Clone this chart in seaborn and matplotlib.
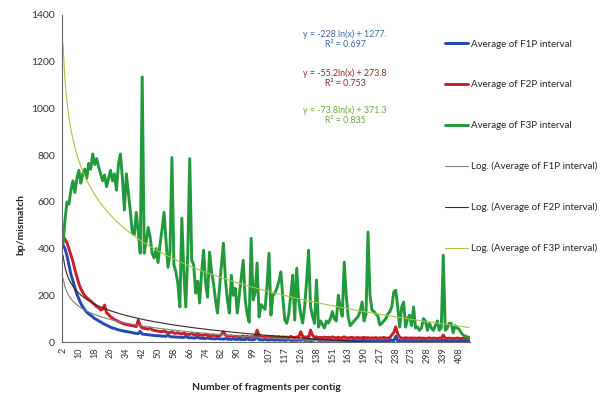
import numpy as np
import pandas as pd
import matplotlib.pyplot as plt
import seaborn as sns

# x categories (number of fragments per contig)
fragments = (list(range(2, 97)) + [98] + list(range(99, 108))
             + [108, 109, 110, 112, 113, 114, 116, 117]
             + [118, 119, 120, 121, 122, 124, 125, 126]
             + [127, 128, 130, 131, 133, 134, 136, 138]
             + [139, 140, 142, 144, 145, 147, 149, 151]
             + [152, 153, 155, 156, 158, 160, 161, 163]
             + [165, 168, 171, 174, 178, 182, 186, 190]
             + [193, 196, 200, 203, 207, 210, 214, 217]
             + [219, 222, 225, 228, 230, 233, 235, 238]
             + [242, 246, 251, 256, 260, 265, 269, 273]
             + [276, 279, 282, 285, 289, 292, 295, 298]
             + [303, 309, 314, 319, 325, 330, 335, 339]
             + [348, 357, 366, 375, 385, 394, 401, 408]
             + [420, 437, 455, 480, 512])

f1p = [415, 400, 370, 330, 290, 262, 232, 205, 185, 165,
       150, 138, 128, 120, 114, 108, 100, 96, 90, 86,
       80, 76, 72, 68, 63, 60, 58, 55, 52, 50,
       48, 46, 45, 43, 42, 40, 38, 37, 36, 45,
       34, 33, 32, 31, 30, 29, 28, 27, 27, 26,
       25, 25, 24, 30, 23, 22, 22, 21, 21, 20,
       20, 19, 25, 19, 18, 18, 17, 17, 22, 16,
       16, 15, 15, 18, 15, 14, 14, 13, 16, 13,
       13, 12, 15, 12, 12, 11, 14, 11, 11, 12,
       10, 11, 10, 14, 10, 10, 9, 12, 25, 10,
       9, 9, 11, 9, 8, 10, 9, 8, 10, 8,
       8, 9, 7, 8, 11, 7, 7, 8, 7, 9,
       7, 10, 7, 7, 8, 6, 7, 9, 12, 7,
       6, 7, 6, 8, 6, 6, 7, 6, 5, 8,
       6, 6, 7, 5, 6, 5, 6, 7, 5, 6,
       5, 6, 8, 5, 6, 5, 5, 6, 5, 7,
       5, 5, 6, 5, 5, 6, 8, 5, 25, 5,
       6, 5, 5, 6, 5, 5, 6, 5, 5, 4,
       5, 6, 5, 4, 5, 5, 4, 6, 5, 4,
       5, 5, 8, 4, 5, 4, 5, 4, 5, 4,
       6, 4, 5, 4, 5, 4]

f2p = [450, 440, 425, 400, 372, 345, 310, 280, 250, 228,
       212, 198, 190, 182, 176, 167, 160, 151, 147, 137,
       140, 158, 125, 118, 108, 102, 96, 92, 88, 84,
       80, 77, 75, 73, 71, 70, 68, 66, 94, 70,
       60, 58, 57, 55, 60, 52, 50, 48, 46, 45,
       44, 48, 42, 41, 40, 44, 38, 37, 40, 36,
       35, 38, 34, 33, 32, 37, 31, 30, 35, 30,
       29, 28, 34, 28, 27, 26, 30, 26, 25, 26,
       33, 44, 30, 25, 24, 27, 23, 25, 24, 22,
       23, 26, 22, 24, 21, 23, 22, 26, 51, 30,
       22, 21, 23, 20, 22, 21, 24, 20, 21, 23,
       19, 22, 20, 21, 19, 24, 20, 19, 22, 21,
       44, 25, 20, 22, 19, 51, 28, 20, 22, 19,
       20, 18, 21, 19, 20, 18, 22, 19, 18, 20,
       17, 19, 22, 18, 17, 19, 20, 17, 18, 19,
       17, 18, 20, 17, 19, 16, 18, 17, 19, 16,
       18, 17, 20, 16, 17, 18, 30, 40, 65, 35,
       20, 17, 16, 18, 17, 16, 18, 16, 17, 16,
       18, 16, 17, 15, 16, 18, 15, 17, 16, 15,
       17, 16, 30, 16, 15, 17, 15, 16, 15, 17,
       16, 15, 16, 15, 16, 15]

f3p = [420, 520, 600, 590, 650, 690, 640, 700, 735, 680,
       720, 740, 700, 765, 740, 805, 760, 785, 750, 720,
       690, 715, 665, 700, 735, 690, 720, 650, 760, 805,
       700, 565, 720, 640, 560, 470, 460, 555, 470, 380,
       1135, 380, 430, 490, 450, 380, 360, 400, 340, 420,
       480, 555, 440, 320, 380, 790, 330, 300, 250, 150,
       530, 300, 150, 380, 785, 350, 330, 209, 260, 167,
       300, 393, 250, 192, 385, 300, 250, 180, 124, 230,
       330, 423, 270, 180, 124, 286, 200, 230, 124, 200,
       280, 350, 180, 120, 85, 444, 180, 210, 338, 107,
       160, 150, 140, 240, 380, 115, 200, 210, 230, 260,
       300, 190, 94, 80, 120, 200, 286, 94, 316, 180,
       120, 81, 150, 260, 393, 150, 110, 80, 265, 64,
       90, 75, 60, 90, 81, 100, 130, 100, 90, 200,
       150, 110, 342, 200, 107, 70, 80, 90, 100, 110,
       130, 171, 90, 120, 470, 200, 137, 130, 120, 110,
       73, 80, 90, 100, 120, 130, 150, 214, 222, 150,
       64, 150, 171, 64, 100, 115, 70, 150, 60, 64,
       50, 60, 100, 90, 50, 80, 60, 50, 70, 90,
       50, 60, 372, 50, 60, 80, 80, 40, 70, 60,
       55, 40, 30, 25, 22, 20]

# logarithmic trendlines as printed on the chart: y = a*ln(x) + b
trend_f1p = (-55.2, 273.8)
trend_f2p = (-73.8, 371.3)
trend_f3p = (-228.0, 1277.0)

equations = ["y = -228.ln(x) + 1277.\nR² = 0.697",
             "y = -55.2ln(x) + 273.8\nR² = 0.753",
             "y = -73.8ln(x) + 371.3\nR² = 0.835"]

sns.set_style("white")
plt.rcParams['font.family'] = ['Lato', 'DejaVu Sans']

pos = np.arange(len(fragments))
df = pd.DataFrame({'pos': pos, 'F1P': f1p, 'F2P': f2p, 'F3P': f3p})

fig, ax = plt.subplots(figsize=(6.05, 3.95), dpi=100)
fig.subplots_adjust(left=62/605, right=470/605, top=1-15/395, bottom=1-342/395)

sns.lineplot(data=df, x='pos', y='F1P', color='#2449b0', lw=2.1,
             label='Average of F1P interval', ax=ax)
sns.lineplot(data=df, x='pos', y='F2P', color='#c8202a', lw=2.1,
             label='Average of F2P interval', ax=ax)
sns.lineplot(data=df, x='pos', y='F3P', color='#229a3c', lw=2.1,
             label='Average of F3P interval', ax=ax)

for (a, b), col, name in [(trend_f1p, '#808080', 'Log. (Average of F1P interval)'),
                          (trend_f2p, '#3a2626', 'Log. (Average of F2P interval)'),
                          (trend_f3p, '#a3c845', 'Log. (Average of F3P interval)')]:
    sns.lineplot(x=pos, y=a*np.log(pos+1)+b, color=col, lw=0.8, label=name, ax=ax)

ax.set_ylim(0, 1400)
ax.set_xlim(-0.5, len(fragments) - 0.5)
ax.set_yticks(np.arange(0, 1401, 200))
ax.set_xticks(pos)
ax.set_xticklabels([str(f) if i % 8 == 0 else '' for i, f in enumerate(fragments)])
ax.tick_params(axis='x', length=3, width=0.5, labelsize=6.5, pad=1,
               labelrotation=90, colors='#555555', labelcolor='#333333')
ax.tick_params(axis='y', length=3, width=0.6, labelsize=7.5, pad=2,
               colors='#555555', labelcolor='#333333')
for s in ['top', 'right']:
    ax.spines[s].set_visible(False)
for s in ['left', 'bottom']:
    ax.spines[s].set_color('#666666')
    ax.spines[s].set_linewidth(0.8)

ax.set_xlabel('Number of fragments per contig', fontweight='bold', fontsize=7.5)
ax.xaxis.set_label_coords(0.5, -0.125)
ax.set_ylabel('bp/mismatch', fontweight='bold', fontsize=7.5)
ax.yaxis.set_label_coords(-0.09, 0.36)

ax.legend(loc='upper left', bbox_to_anchor=(436/605, 1-31/395),
          bbox_transform=fig.transFigure, frameon=False, fontsize=7,
          labelspacing=3.25, handlelength=2.4, handletextpad=0.3)

eq_colors = ['#3b6aa8', '#8e2a2a', '#6aaa3a']
eq_y = [39, 78, 115]
for txt, col, y in zip(equations, eq_colors, eq_y):
    fig.text(345/605, 1-y/395, txt, color=col, fontsize=6.4, ha='center',
             va='center', linespacing=1.2)

fig.savefig('out.png', dpi=100)
